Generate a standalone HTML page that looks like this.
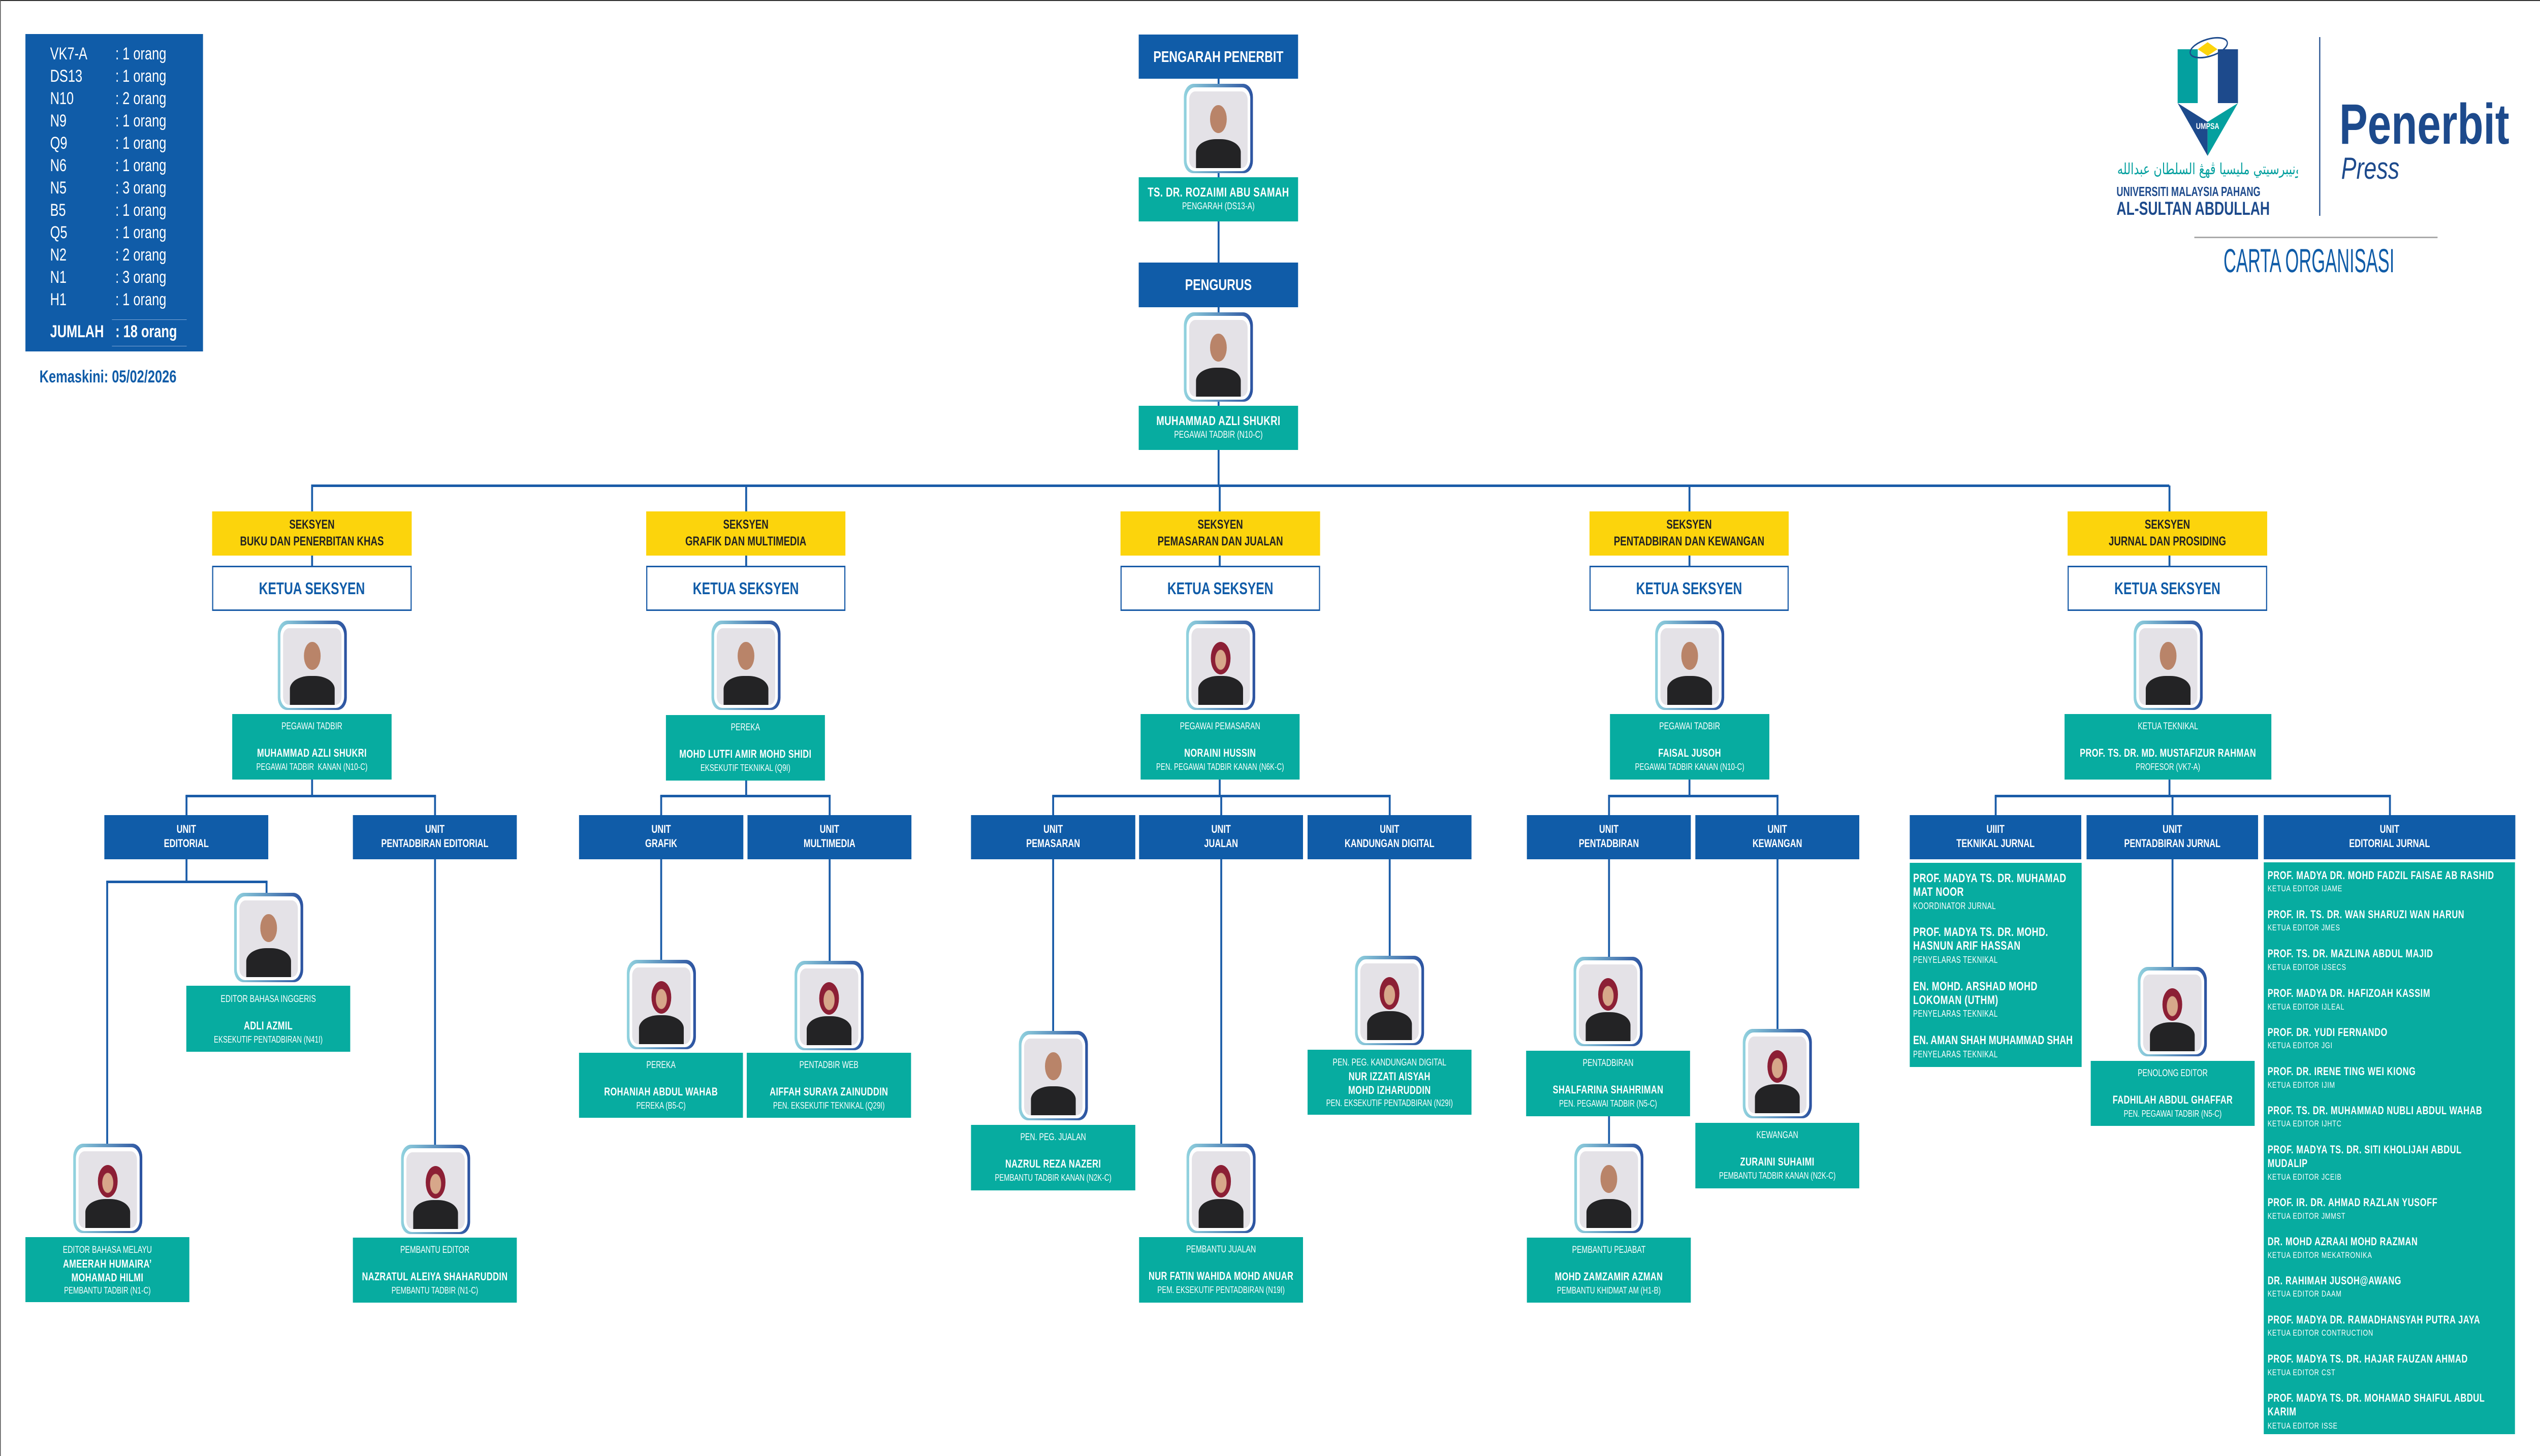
<!DOCTYPE html>
<html><head><meta charset="utf-8">
<style>
*{margin:0;padding:0;box-sizing:border-box}
html,body{margin:0;overflow:hidden;background:#fff}
body{font-family:"Liberation Sans",Arial,sans-serif}
#w{position:absolute;left:0;top:0;width:6694px;height:2867px;overflow:hidden;background:#fff;transform-origin:0 0}
.a{position:absolute}
.l{position:absolute;background:#1A5CA8}
.y{position:absolute;background:#FCD40C;color:#222;font-weight:bold;font-size:25px;line-height:33px;text-align:center;padding-top:10px;height:87px;white-space:nowrap}
.k{position:absolute;background:#fff;border:3px solid #1A5CA8;color:#105CA8;font-weight:bold;font-size:33px;line-height:83px;text-align:center;height:89px;white-space:nowrap}
.u{position:absolute;background:#105CA8;color:#fff;font-weight:bold;font-size:22px;line-height:28px;text-align:center;padding-top:14px;height:87px;white-space:nowrap}
.t{position:absolute;background:#07ACA0;color:#fff;text-align:center;padding-top:12px;white-space:nowrap}
.t .r{font-size:19px;line-height:26px}
.t .n{font-size:22px;font-weight:bold;line-height:30px;margin-top:24px;letter-spacing:.5px}
.t .s{font-size:18px;line-height:24px}
.t.t2{padding-top:13px}
.t.t2 .n{margin-top:0;line-height:27px}
.ph{position:absolute;width:182px;height:176px;border-radius:26px 26px 24px 24px;background:linear-gradient(90deg,#92d3df,#2b52a0)}
.ph i{position:absolute;left:7px;top:7px;right:7px;bottom:4px;background:#fff;border-radius:22px}
.ph b{position:absolute;left:14px;top:15px;right:14px;bottom:10px;background:#e4e2e7;border-radius:16px;overflow:hidden}
.ph b:before{content:"";position:absolute;left:36%;top:18%;width:28%;height:36%;border-radius:50%;background:#b98469}
.ph b:after{content:"";position:absolute;left:12%;right:12%;bottom:0;height:38%;border-radius:45% 45% 0 0;background:#232325}
.ph.h b:before{background:radial-gradient(ellipse at 50% 55%,#d7a78a 38%,#8c1f35 41%);width:34%;left:33%;height:42%}
.lst{position:absolute;background:#07ACA0;color:#fff;white-space:nowrap;overflow:hidden}
.lst div{position:absolute;left:0}
.ln{font-weight:bold;font-size:22px;line-height:27px;letter-spacing:.8px}
.ls{font-size:17px;line-height:24px;letter-spacing:1px}
.tk{font-weight:bold;font-size:24px;line-height:27px;letter-spacing:.6px}
.tks{font-size:18px;line-height:24px;letter-spacing:.6px}
.lg{position:absolute;color:#fff;font-size:34px;line-height:44px;white-space:nowrap}
</style></head><body><div id="w">
<div class="a" style="left:0;top:0;width:6694px;height:2px;background:#333"></div>
<div class="a" style="left:0;top:0;width:2px;height:2867px;background:#555"></div>

<div class="a" style="left:67px;top:67px;width:468px;height:625px;background:#105CA8"></div>
<div class="lg" style="left:132px;top:84px">VK7-A<br>DS13<br>N10<br>N9<br>Q9<br>N6<br>N5<br>B5<br>Q5<br>N2<br>N1<br>H1</div>
<div class="lg" style="left:304px;top:84px">: 1 orang<br>: 1 orang<br>: 2 orang<br>: 1 orang<br>: 1 orang<br>: 1 orang<br>: 3 orang<br>: 1 orang<br>: 1 orang<br>: 2 orang<br>: 3 orang<br>: 1 orang</div>
<div class="a" style="left:295px;top:629px;width:197px;height:1px;background:#7fa6d6"></div>
<div class="a" style="left:295px;top:681px;width:197px;height:1px;background:#7fa6d6"></div>
<div class="lg" style="left:132px;top:631px;font-weight:bold">JUMLAH</div>
<div class="lg" style="left:304px;top:631px;font-weight:bold">: 18 orang</div>
<div class="a" style="left:104px;top:720px;font-size:34px;font-weight:bold;color:#105CA8;white-space:nowrap;line-height:44px">Kemaskini: 05/02/2026</div>

<svg class="a" style="left:5700px;top:50px" width="260" height="270" viewBox="5700 50 260 270">
<rect x="5739" y="97" width="53" height="106" fill="#04A09F"/>
<rect x="5845" y="97" width="53" height="106" fill="#1D4A8C"/>
<polygon points="5739,203 5818,240 5818,307" fill="#1D4A8C"/>
<polygon points="5898,203 5818,240 5818,307" fill="#04A09F"/>
<polygon points="5792,203 5818,240 5845,203" fill="#fff"/>
<ellipse cx="5821" cy="94" rx="50" ry="17" transform="rotate(-12 5821 94)" fill="none" stroke="#1D4A8C" stroke-width="3"/>
<polygon points="5818,83 5844,97 5818,110 5792,97" fill="#FCD40C"/>
<text x="5818" y="254" font-family="Liberation Sans" font-weight="bold" font-size="17" fill="#fff" text-anchor="middle">UMPSA</text>
</svg>
<div class="a" style="left:5580px;top:312px;width:476px;height:44px;overflow:hidden;text-align:center;font-family:'DejaVu Sans',sans-serif;font-size:30px;line-height:44px;color:#04A09F;white-space:nowrap">اونيبرسيتي مليسيا ڤهڠ السلطان عبدالله</div>
<div class="a" style="left:5578px;top:362px;font-size:26px;font-weight:bold;color:#1D4A8C;line-height:30px;white-space:nowrap;transform:scaleX(0.94);transform-origin:left">UNIVERSITI MALAYSIA PAHANG</div>
<div class="a" style="left:5578px;top:391px;font-size:37px;font-weight:bold;color:#1D4A8C;line-height:40px;white-space:nowrap;transform:scaleX(0.96);transform-origin:left">AL-SULTAN ABDULLAH</div>
<div class="a" style="left:6112px;top:73px;width:3px;height:352px;background:#1D4A8C"></div>
<div class="a" style="left:6165px;top:185px;font-size:112px;font-weight:bold;color:#1D4A8C;line-height:120px;white-space:nowrap">Penerbit</div>
<div class="a" style="left:6170px;top:300px;font-size:60px;font-style:italic;color:#1D4A8C;line-height:64px;white-space:nowrap">Press</div>
<div class="a" style="left:5783px;top:466px;width:641px;height:3px;background:#aaa"></div>
<div class="a" style="left:5860px;top:478px;font-size:66px;color:#105CA8;line-height:70px;white-space:nowrap;transform:scaleX(0.7);transform-origin:left">CARTA ORGANISASI</div>

<div class="l" style="left:3209px;top:155px;width:5px;height:801px"></div>
<div class="l" style="left:820px;top:954px;width:4897px;height:5px"></div>
<div class="l" style="left:820px;top:956px;width:5px;height:52px"></div>
<div class="l" style="left:820px;top:1094px;width:5px;height:21px"></div>
<div class="l" style="left:820px;top:1535px;width:5px;height:33px"></div>
<div class="l" style="left:1964px;top:956px;width:5px;height:52px"></div>
<div class="l" style="left:1964px;top:1094px;width:5px;height:21px"></div>
<div class="l" style="left:1964px;top:1535px;width:5px;height:33px"></div>
<div class="l" style="left:3212px;top:956px;width:5px;height:52px"></div>
<div class="l" style="left:3212px;top:1094px;width:5px;height:21px"></div>
<div class="l" style="left:3212px;top:1535px;width:5px;height:33px"></div>
<div class="l" style="left:4450px;top:956px;width:5px;height:52px"></div>
<div class="l" style="left:4450px;top:1094px;width:5px;height:21px"></div>
<div class="l" style="left:4450px;top:1535px;width:5px;height:33px"></div>
<div class="l" style="left:5715px;top:956px;width:5px;height:52px"></div>
<div class="l" style="left:5715px;top:1094px;width:5px;height:21px"></div>
<div class="l" style="left:5715px;top:1535px;width:5px;height:33px"></div>
<div class="l" style="left:489px;top:1565px;width:660px;height:5px"></div>
<div class="l" style="left:1740px;top:1565px;width:449px;height:5px"></div>
<div class="l" style="left:2773px;top:1565px;width:892px;height:5px"></div>
<div class="l" style="left:4238px;top:1565px;width:449px;height:5px"></div>
<div class="l" style="left:5257px;top:1565px;width:1044px;height:5px"></div>
<div class="l" style="left:489px;top:1567px;width:5px;height:40px"></div>
<div class="l" style="left:1144px;top:1567px;width:5px;height:40px"></div>
<div class="l" style="left:1740px;top:1567px;width:5px;height:40px"></div>
<div class="l" style="left:2184px;top:1567px;width:5px;height:40px"></div>
<div class="l" style="left:2773px;top:1567px;width:5px;height:40px"></div>
<div class="l" style="left:3216px;top:1567px;width:5px;height:40px"></div>
<div class="l" style="left:3660px;top:1567px;width:5px;height:40px"></div>
<div class="l" style="left:4238px;top:1567px;width:5px;height:40px"></div>
<div class="l" style="left:4682px;top:1567px;width:5px;height:40px"></div>
<div class="l" style="left:5257px;top:1567px;width:5px;height:40px"></div>
<div class="l" style="left:5723px;top:1567px;width:5px;height:40px"></div>
<div class="l" style="left:6296px;top:1567px;width:5px;height:40px"></div>
<div class="l" style="left:489px;top:1690px;width:5px;height:47px"></div>
<div class="l" style="left:280px;top:1734px;width:425px;height:5px"></div>
<div class="l" style="left:280px;top:1736px;width:5px;height:518px"></div>
<div class="l" style="left:700px;top:1736px;width:5px;height:24px"></div>
<div class="l" style="left:1144px;top:1690px;width:5px;height:566px"></div>
<div class="l" style="left:1740px;top:1690px;width:5px;height:202px"></div>
<div class="l" style="left:2184px;top:1690px;width:5px;height:204px"></div>
<div class="l" style="left:2773px;top:1690px;width:5px;height:342px"></div>
<div class="l" style="left:3216px;top:1690px;width:5px;height:564px"></div>
<div class="l" style="left:3660px;top:1690px;width:5px;height:194px"></div>
<div class="l" style="left:4238px;top:1690px;width:5px;height:196px"></div>
<div class="l" style="left:4238px;top:2196px;width:5px;height:58px"></div>
<div class="l" style="left:4682px;top:1690px;width:5px;height:338px"></div>
<div class="l" style="left:5723px;top:1690px;width:5px;height:216px"></div>

<div class="a" style="left:3001px;top:68px;width:420px;height:87px;background:#105CA8;color:#fff;font-weight:bold;font-size:31px;line-height:87px;text-align:center;white-space:nowrap">PENGARAH PENERBIT</div>
<div class="ph" style="left:3120px;top:165px"><i></i><b></b></div>
<div class="a" style="left:3001px;top:349px;width:420px;height:87px;background:#07ACA0;color:#fff;text-align:center;white-space:nowrap;padding-top:14px"><div style="font-weight:bold;font-size:25px;line-height:32px;letter-spacing:.5px">TS. DR. ROZAIMI ABU SAMAH</div><div style="font-size:19px;line-height:24px">PENGARAH (DS13-A)</div></div>
<div class="a" style="left:3001px;top:517px;width:420px;height:88px;background:#105CA8;color:#fff;font-weight:bold;font-size:31px;line-height:88px;text-align:center">PENGURUS</div>
<div class="ph" style="left:3120px;top:615px"><i></i><b></b></div>
<div class="a" style="left:3001px;top:799px;width:420px;height:87px;background:#07ACA0;color:#fff;text-align:center;white-space:nowrap;padding-top:14px"><div style="font-weight:bold;font-size:25px;line-height:32px;letter-spacing:.5px">MUHAMMAD AZLI SHUKRI</div><div style="font-size:19px;line-height:24px">PEGAWAI TADBIR (N10-C)</div></div>

<div class="y" style="left:559px;top:1007px;width:526px">SEKSYEN<br>BUKU DAN PENERBITAN KHAS</div>
<div class="y" style="left:1703px;top:1007px;width:525px">SEKSYEN<br>GRAFIK DAN MULTIMEDIA</div>
<div class="y" style="left:2953px;top:1007px;width:526px">SEKSYEN<br>PEMASARAN DAN JUALAN</div>
<div class="y" style="left:4189px;top:1007px;width:525px">SEKSYEN<br>PENTADBIRAN DAN KEWANGAN</div>
<div class="y" style="left:5449px;top:1007px;width:526px">SEKSYEN<br>JURNAL DAN PROSIDING</div>
<div class="k" style="left:559px;top:1114px;width:526px">KETUA SEKSYEN</div>
<div class="k" style="left:1703px;top:1114px;width:525px">KETUA SEKSYEN</div>
<div class="k" style="left:2953px;top:1114px;width:526px">KETUA SEKSYEN</div>
<div class="k" style="left:4189px;top:1114px;width:525px">KETUA SEKSYEN</div>
<div class="k" style="left:5449px;top:1114px;width:526px">KETUA SEKSYEN</div>

<div class="ph" style="left:732px;top:1222px"><i></i><b></b></div>
<div class="ph" style="left:1875px;top:1222px"><i></i><b></b></div>
<div class="ph h" style="left:3126px;top:1222px"><i></i><b></b></div>
<div class="ph" style="left:4362px;top:1222px"><i></i><b></b></div>
<div class="ph" style="left:5623px;top:1222px"><i></i><b></b></div>

<div class="t" style="left:612px;top:1406px;width:420px;height:129px"><div class="r">PEGAWAI TADBIR</div><div class="n">MUHAMMAD AZLI SHUKRI</div><div class="s">PEGAWAI TADBIR&nbsp; KANAN (N10-C)</div></div>
<div class="t" style="left:1755px;top:1408px;width:419px;height:129px"><div class="r">PEREKA</div><div class="n">MOHD LUTFI AMIR MOHD SHIDI</div><div class="s">EKSEKUTIF TEKNIKAL (Q9I)</div></div>
<div class="t" style="left:3006px;top:1406px;width:419px;height:129px"><div class="r">PEGAWAI PEMASARAN</div><div class="n">NORAINI HUSSIN</div><div class="s">PEN. PEGAWAI TADBIR KANAN (N6K-C)</div></div>
<div class="t" style="left:4243px;top:1406px;width:420px;height:129px"><div class="r">PEGAWAI TADBIR</div><div class="n">FAISAL JUSOH</div><div class="s">PEGAWAI TADBIR KANAN (N10-C)</div></div>
<div class="t" style="left:5441px;top:1406px;width:545px;height:129px"><div class="r">KETUA TEKNIKAL</div><div class="n">PROF. TS. DR. MD. MUSTAFIZUR RAHMAN</div><div class="s">PROFESOR (VK7-A)</div></div>

<div class="u" style="left:275px;top:1605px;width:432px">UNIT<br>EDITORIAL</div>
<div class="u" style="left:930px;top:1605px;width:432px">UNIT<br>PENTADBIRAN EDITORIAL</div>
<div class="u" style="left:1526px;top:1605px;width:433px">UNIT<br>GRAFIK</div>
<div class="u" style="left:1970px;top:1605px;width:432px">UNIT<br>MULTIMEDIA</div>
<div class="u" style="left:2559px;top:1605px;width:433px">UNIT<br>PEMASARAN</div>
<div class="u" style="left:3002px;top:1605px;width:432px">UNIT<br>JUALAN</div>
<div class="u" style="left:3446px;top:1605px;width:432px">UNIT<br>KANDUNGAN DIGITAL</div>
<div class="u" style="left:4024px;top:1605px;width:432px">UNIT<br>PENTADBIRAN</div>
<div class="u" style="left:4468px;top:1605px;width:432px">UNIT<br>KEWANGAN</div>
<div class="u" style="left:5033px;top:1605px;width:452px">UIIIT<br>TEKNIKAL JURNAL</div>
<div class="u" style="left:5499px;top:1605px;width:452px">UNIT<br>PENTADBIRAN JURNAL</div>
<div class="u" style="left:5966px;top:1605px;width:663px">UNIT<br>EDITORIAL JURNAL</div>

<div class="ph" style="left:617px;top:1758px"><i></i><b></b></div>
<div class="ph h" style="left:193px;top:2252px"><i></i><b></b></div>
<div class="ph h" style="left:1057px;top:2254px"><i></i><b></b></div>
<div class="ph h" style="left:1652px;top:1890px"><i></i><b></b></div>
<div class="ph h" style="left:2094px;top:1892px"><i></i><b></b></div>
<div class="ph" style="left:2685px;top:2030px"><i></i><b></b></div>
<div class="ph h" style="left:3127px;top:2252px"><i></i><b></b></div>
<div class="ph h" style="left:3571px;top:1882px"><i></i><b></b></div>
<div class="ph h" style="left:4147px;top:1884px"><i></i><b></b></div>
<div class="ph" style="left:4149px;top:2252px"><i></i><b></b></div>
<div class="ph h" style="left:4593px;top:2026px"><i></i><b></b></div>
<div class="ph h" style="left:5634px;top:1904px"><i></i><b></b></div>

<div class="t" style="left:491px;top:1941px;width:432px;height:130px;padding-top:14px"><div class="r">EDITOR BAHASA INGGERIS</div><div class="n">ADLI AZMIL</div><div class="s">EKSEKUTIF PENTADBIRAN (N41I)</div></div>
<div class="t t2" style="left:67px;top:2436px;width:432px;height:128px"><div class="r">EDITOR BAHASA MELAYU</div><div class="n">AMEERAH HUMAIRA’</div><div class="n">MOHAMAD HILMI</div><div class="s">PEMBANTU TADBIR (N1-C)</div></div>
<div class="t" style="left:930px;top:2437px;width:432px;height:128px"><div class="r">PEMBANTU EDITOR</div><div class="n">NAZRATUL ALEIYA SHAHARUDDIN</div><div class="s">PEMBANTU TADBIR (N1-C)</div></div>
<div class="t" style="left:1526px;top:2073px;width:432px;height:128px"><div class="r">PEREKA</div><div class="n">ROHANIAH ABDUL WAHAB</div><div class="s">PEREKA (B5-C)</div></div>
<div class="t" style="left:1968px;top:2073px;width:433px;height:128px"><div class="r">PENTADBIR WEB</div><div class="n">AIFFAH SURAYA ZAINUDDIN</div><div class="s">PEN. EKSEKUTIF TEKNIKAL (Q29I)</div></div>
<div class="t" style="left:2559px;top:2215px;width:433px;height:129px"><div class="r">PEN. PEG. JUALAN</div><div class="n">NAZRUL REZA NAZERI</div><div class="s">PEMBANTU TADBIR KANAN (N2K-C)</div></div>
<div class="t" style="left:3002px;top:2436px;width:432px;height:129px"><div class="r">PEMBANTU JUALAN</div><div class="n">NUR FATIN WAHIDA MOHD ANUAR</div><div class="s">PEM. EKSEKUTIF PENTADBIRAN (N19I)</div></div>
<div class="t t2" style="left:3446px;top:2067px;width:432px;height:128px"><div class="r">PEN. PEG. KANDUNGAN DIGITAL</div><div class="n">NUR IZZATI AISYAH</div><div class="n">MOHD IZHARUDDIN</div><div class="s">PEN. EKSEKUTIF PENTADBIRAN (N29I)</div></div>
<div class="t" style="left:4022px;top:2069px;width:432px;height:129px"><div class="r">PENTADBIRAN</div><div class="n">SHALFARINA SHAHRIMAN</div><div class="s">PEN. PEGAWAI TADBIR (N5-C)</div></div>
<div class="t" style="left:4024px;top:2437px;width:432px;height:128px"><div class="r">PEMBANTU PEJABAT</div><div class="n">MOHD ZAMZAMIR AZMAN</div><div class="s">PEMBANTU KHIDMAT AM (H1-B)</div></div>
<div class="t" style="left:4468px;top:2211px;width:432px;height:129px"><div class="r">KEWANGAN</div><div class="n">ZURAINI SUHAIMI</div><div class="s">PEMBANTU TADBIR KANAN (N2K-C)</div></div>
<div class="t" style="left:5510px;top:2089px;width:432px;height:128px"><div class="r">PENOLONG EDITOR</div><div class="n">FADHILAH ABDUL GHAFFAR</div><div class="s">PEN. PEGAWAI TADBIR (N5-C)</div></div>

<div class="lst" style="left:5033px;top:1699px;width:453px;height:402px">
<div class="tk" style="left:9px;top:17px">PROF. MADYA TS. DR. MUHAMAD</div>
<div class="tk" style="left:9px;top:44px">MAT NOOR</div>
<div class="tks" style="left:9px;top:73px">KOORDINATOR JURNAL</div>
<div class="tk" style="left:9px;top:123px">PROF. MADYA TS. DR. MOHD.</div>
<div class="tk" style="left:9px;top:150px">HASNUN ARIF HASSAN</div>
<div class="tks" style="left:9px;top:179px">PENYELARAS TEKNIKAL</div>
<div class="tk" style="left:9px;top:230px">EN. MOHD. ARSHAD MOHD</div>
<div class="tk" style="left:9px;top:257px">LOKOMAN (UTHM)</div>
<div class="tks" style="left:9px;top:285px">PENYELARAS TEKNIKAL</div>
<div class="tk" style="left:9px;top:336px;letter-spacing:0">EN. AMAN SHAH MUHAMMAD SHAH</div>
<div class="tks" style="left:9px;top:365px">PENYELARAS TEKNIKAL</div>
</div>

<div class="lst" style="left:5966px;top:1698px;width:662px;height:1126px">
<div class="ln" style="left:10px;top:12px">PROF. MADYA DR. MOHD FADZIL FAISAE AB RASHID</div>
<div class="ls" style="left:10px;top:40px">KETUA EDITOR IJAME</div>
<div class="ln" style="left:10px;top:89px">PROF. IR. TS. DR. WAN SHARUZI WAN HARUN</div>
<div class="ls" style="left:10px;top:117px">KETUA EDITOR JMES</div>
<div class="ln" style="left:10px;top:166px">PROF. TS. DR. MAZLINA ABDUL MAJID</div>
<div class="ls" style="left:10px;top:195px">KETUA EDITOR IJSECS</div>
<div class="ln" style="left:10px;top:244px">PROF. MADYA DR. HAFIZOAH KASSIM</div>
<div class="ls" style="left:10px;top:273px">KETUA EDITOR IJLEAL</div>
<div class="ln" style="left:10px;top:321px">PROF. DR. YUDI FERNANDO</div>
<div class="ls" style="left:10px;top:349px">KETUA EDITOR JGI</div>
<div class="ln" style="left:10px;top:398px">PROF. DR. IRENE TING WEI KIONG</div>
<div class="ls" style="left:10px;top:427px">KETUA EDITOR IJIM</div>
<div class="ln" style="left:10px;top:475px">PROF. TS. DR. MUHAMMAD NUBLI ABDUL WAHAB</div>
<div class="ls" style="left:10px;top:503px">KETUA EDITOR IJHTC</div>
<div class="ln" style="left:10px;top:552px">PROF. MADYA TS. DR. SITI KHOLIJAH ABDUL</div>
<div class="ln" style="left:10px;top:579px">MUDALIP</div>
<div class="ls" style="left:10px;top:608px">KETUA EDITOR JCEIB</div>
<div class="ln" style="left:10px;top:656px">PROF. IR. DR. AHMAD RAZLAN YUSOFF</div>
<div class="ls" style="left:10px;top:685px">KETUA EDITOR JMMST</div>
<div class="ln" style="left:10px;top:733px">DR. MOHD AZRAAI MOHD RAZMAN</div>
<div class="ls" style="left:10px;top:762px">KETUA EDITOR MEKATRONIKA</div>
<div class="ln" style="left:10px;top:810px">DR. RAHIMAH JUSOH@AWANG</div>
<div class="ls" style="left:10px;top:838px">KETUA EDITOR DAAM</div>
<div class="ln" style="left:10px;top:887px">PROF. MADYA DR. RAMADHANSYAH PUTRA JAYA</div>
<div class="ls" style="left:10px;top:915px">KETUA EDITOR CONTRUCTION</div>
<div class="ln" style="left:10px;top:964px">PROF. MADYA TS. DR. HAJAR FAUZAN AHMAD</div>
<div class="ls" style="left:10px;top:993px">KETUA EDITOR CST</div>
<div class="ln" style="left:10px;top:1041px">PROF. MADYA TS. DR. MOHAMAD SHAIFUL ABDUL</div>
<div class="ln" style="left:10px;top:1068px">KARIM</div>
<div class="ls" style="left:10px;top:1098px">KETUA EDITOR ISSE</div>
</div>
</div>
<script>
(function(){
  function fit(){
    var w=document.documentElement.clientWidth||window.innerWidth;
    var h=document.documentElement.clientHeight||window.innerHeight;
    var sx=w/6694, sy=h/2867;
    var el=document.getElementById('w');
    if(Math.abs(sx-1)<0.001&&Math.abs(sy-1)<0.001){el.style.transform='none';}
    else{el.style.transform='scale('+sx+','+sy+')';}
  }
  fit();
  window.addEventListener('resize',fit);
})();
</script>
</body></html>
